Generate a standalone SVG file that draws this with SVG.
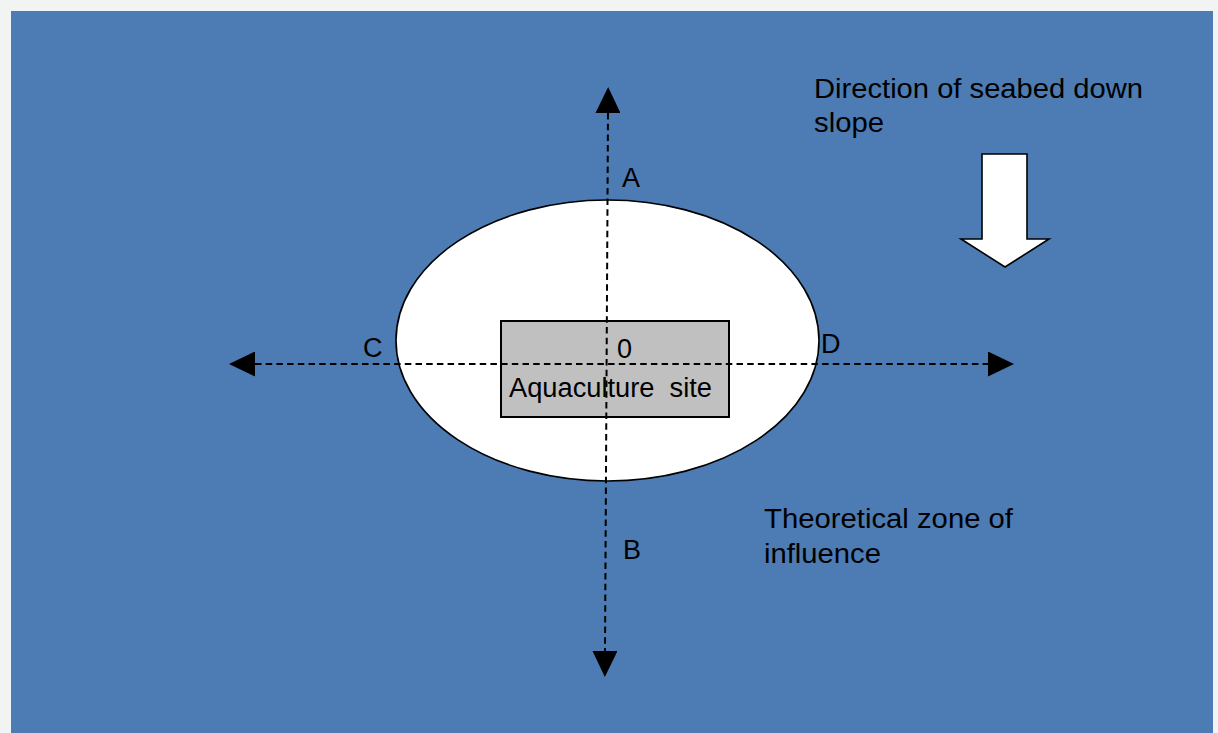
<svg xmlns="http://www.w3.org/2000/svg" width="1218" height="733" viewBox="0 0 1218 733">
  <style>
    .lbl { font-family: "Liberation Sans", Arial, sans-serif; font-size: 27px; fill: #000; }
    .axis { stroke: #000; stroke-width: 2; stroke-dasharray: 6.5 4.2; fill: none; }
  </style>
  <defs>
    <marker id="tri" viewBox="0 0 26 25" refX="0" refY="12.5" markerWidth="26" markerHeight="25" markerUnits="userSpaceOnUse" orient="auto-start-reverse">
      <path d="M0,0 L26,12.5 L0,25 z" fill="#000"/>
    </marker>
  </defs>
  <rect x="0" y="0" width="1218" height="733" fill="#f2f3f3"/>
  <rect x="11" y="11" width="1202" height="722" fill="#4d7bb3"/>

  <g id="zone">
    <ellipse cx="607.5" cy="340.5" rx="211.5" ry="140.5" fill="#fff" stroke="#000" stroke-width="1.6"/>
  </g>
  <g id="site">
    <rect x="501" y="321" width="228" height="96" fill="#c0c0c0" stroke="#000" stroke-width="2"/>
    <text class="lbl" x="617" y="358">0</text>
    <text class="lbl" x="509" y="397" textLength="203" lengthAdjust="spacingAndGlyphs" xml:space="preserve">Aquaculture  site</text>
  </g>

  <g id="connectors">
    <line class="axis" x1="255" y1="364" x2="988" y2="364" marker-start="url(#tri)" marker-end="url(#tri)"/>
    <line class="axis" x1="608" y1="113" x2="605" y2="651" marker-start="url(#tri)" marker-end="url(#tri)"/>
  </g>

  <g id="axis-labels">
    <text class="lbl" x="622" y="187">A</text>
    <text class="lbl" x="623" y="559">B</text>
    <text class="lbl" x="363" y="357">C</text>
    <text class="lbl" x="821" y="353">D</text>
  </g>

  <g id="slope-arrow">
    <polygon points="982,154 1027,154 1027,239 1049,239 1005,267 961,239 982,239" fill="#fff" stroke="#000" stroke-width="1.6" stroke-linejoin="miter"/>
  </g>
  <g id="slope-label">
    <text class="lbl" x="814" y="98" textLength="329" lengthAdjust="spacingAndGlyphs">Direction of seabed down</text>
    <text class="lbl" x="814" y="132" textLength="70" lengthAdjust="spacingAndGlyphs">slope</text>
  </g>
  <g id="zone-label">
    <text class="lbl" x="764" y="528" textLength="249" lengthAdjust="spacingAndGlyphs">Theoretical zone of</text>
    <text class="lbl" x="764" y="563" textLength="117" lengthAdjust="spacingAndGlyphs">influence</text>
  </g>
</svg>
